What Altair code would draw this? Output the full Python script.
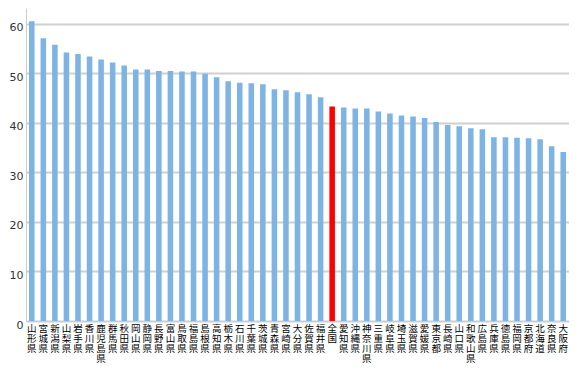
import altair as alt
import pandas as pd

prefs = ["山形県","宮城県","新潟県","山梨県","岩手県","香川県","鹿児島県","群馬県","秋田県","岡山県",
         "静岡県","長野県","富山県","鳥取県","福島県","島根県","高知県","栃木県","石川県","千葉県",
         "茨城県","青森県","宮崎県","大分県","佐賀県","福井県","全国","愛知県","沖縄県","神奈川県",
         "三重県","岐阜県","埼玉県","滋賀県","愛媛県","東京都","長崎県","山口県","和歌山県","広島県",
         "兵庫県","徳島県","福岡県","京都府","北海道","奈良県","大阪府"]
values = [60.5, 57.1, 55.8, 54.2, 53.9, 53.4, 52.8, 52.2, 51.6, 50.8,
          50.8, 50.5, 50.5, 50.4, 50.4, 49.9, 49.2, 48.4, 48.1, 48.0,
          47.8, 46.8, 46.6, 46.2, 45.8, 45.2, 43.3, 43.1, 42.9, 42.9,
          42.3, 41.9, 41.5, 41.3, 41.0, 40.2, 39.6, 39.3, 38.9, 38.7,
          37.1, 37.1, 37.0, 36.9, 36.7, 35.3, 34.1]
y_ticks = [0, 10, 20, 30, 40, 50, 60]

df = pd.DataFrame({"pref": prefs, "value": values})
df["is_nat"] = df["pref"] == "全国"

chart = alt.Chart(df).mark_bar().encode(
    x=alt.X("pref:N", sort=None, title=None,
            scale=alt.Scale(paddingInner=0.52, paddingOuter=0.26),
            axis=alt.Axis(labelAngle=0, labelExpr="split(datum.label, '')",
                          labelFont="Noto Sans CJK JP", labelFontSize=9.5,
                          labelLineHeight=10, labelColor="#000",
                          labelBaseline="top", labelPadding=2, labelOverlap=False,
                          ticks=False, domainColor="#cccccc", domainWidth=1)),
    y=alt.Y("value:Q", title=None,
            scale=alt.Scale(domain=[0, 63.2], nice=False),
            axis=alt.Axis(values=y_ticks, labelFont="DejaVu Sans", labelFontSize=11,
                          labelColor="#333", labelOffset=4, labelPadding=3,
                          ticks=False, minExtent=18, maxExtent=18,
                          domainColor="#cccccc", domainWidth=1,
                          gridColor="#d0d0d0", gridWidth=2)),
    color=alt.Color("is_nat:N", legend=None,
                    scale=alt.Scale(domain=[False, True], range=["#7db4e4", "#ff0000"])),
).properties(
    width=543, height=313, padding={"left": 0, "top": 0, "right": 0, "bottom": 0}
).configure_view(stroke=None)

chart.save("out.html", embed_options={"renderer": "svg", "actions": False})
